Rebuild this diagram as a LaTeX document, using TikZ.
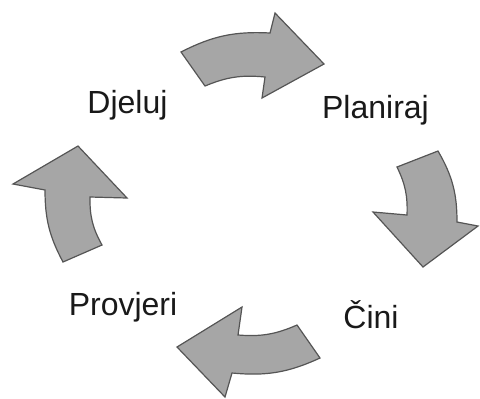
\documentclass[tikz,border=0pt]{standalone}
\usepackage{fontspec}
\setmainfont{Liberation Sans}

\definecolor{arrowgray}{RGB}{166,166,166}
\definecolor{arrowedge}{RGB}{85,85,85}

\tikzset{
  cyclearrow/.style={fill=arrowgray, draw=arrowedge, line width=0.6pt, line join=miter},
  steplabel/.style={font=\fontsize{16}{19}\selectfont, inner sep=0pt, anchor=base, text=black!90}
}

\begin{document}
\begin{tikzpicture}[x=0.5pt,y=-0.5pt]
  \pgfmathsetmacro{\BendOut}{15}
  \pgfmathsetmacro{\BendIn}{14}
  \useasboundingbox (0,0) rectangle (480,398);

  % labels
  \node[steplabel] (djeluj)   at (127.5,113) {Djeluj};
  \node[steplabel] (planiraj) at (375.5,118) {Planiraj};
  \node[steplabel] (cini)     at (371,328)   {Čini};
  \node[steplabel] (provjeri) at (123,315)   {Provjeri};

  % top arrow
  \filldraw[cyclearrow] (181,52) to[bend left=\BendOut] (270,33) -- (275,13) -- (324,64)
    -- (262,98) -- (265,77) to[bend right=\BendIn] (205,86) -- cycle;
  % right arrow
  \filldraw[cyclearrow] (397,167) -- (438,151) to[bend left=\BendOut] (457,222) -- (478,226)
    -- (423,267) -- (373,212) -- (407,215) to[bend right=\BendIn] cycle;
  % bottom arrow
  \filldraw[cyclearrow] (297,325) -- (320,358) to[bend left=\BendOut] (232,373) -- (225,397)
    -- (177,347) -- (242,307) -- (238,335) to[bend right=\BendIn] cycle;
  % left arrow
  \filldraw[cyclearrow] (63,262) -- (102,245) to[bend left=\BendOut] (90,197) -- (127,198)
    -- (78,146) -- (13,184) -- (45,190) to[bend right=\BendIn] cycle;
\end{tikzpicture}
\end{document}
